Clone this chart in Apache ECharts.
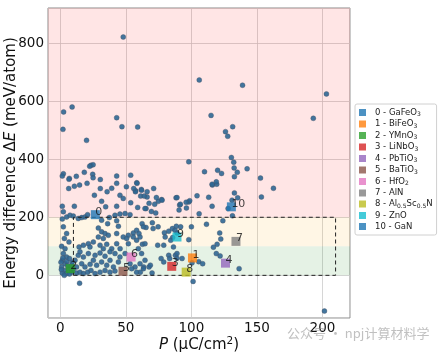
<!DOCTYPE html>
<html>
<head>
<meta charset="utf-8">
<script src="https://cdn.jsdelivr.net/npm/echarts@6/dist/echarts.min.js"></script>
<style>
  html, body { margin: 0; padding: 0; background: #fff; }
  #chart { width: 438px; height: 354px; }
</style>
</head>
<body>
<div id="chart"></div>
<script>
// candidate materials: polarization P (uC/cm2) vs energy difference (meV/atom)
const points = [
  [48,821],[2.5,563],[9,580],[2,503],[20,465],[43,543],[47,512],[59,511],[98,391],[106,673],[115,551],[110,357],[120,362],
  [23.4,379],[25,381],[22.4,376],[2.3,350],[1.5,342],[18.3,355],[12.2,341],[6.9,334],[24.7,348],[25,336],[43,342],[53.7,345],[30.5,330],
  [139,655],[203,625],[193,541],[131.5,512],[126,495],[127.7,479],[130.5,406],[132.3,390],[132.6,370],[135,355],[132.8,340],[142.5,367],[152.7,335],[123,351],
  [162.6,300],[153.4,270],[116,311],[119.3,314],[115.8,238],[132.8,284],[135.3,267],[131,259],[128,230],[131.3,205],[124,188],[121.6,146],[122.4,125],
  [119.6,107],[116.8,97],[119,75],[121.9,67],[136.4,23],[14.7,-27],[101.3,-21],[201.5,-123],
  [113.2,269],[104.3,274],[98,253],[98.7,257],[96,252],[88.3,267],[91,242],[90.6,225],[96.2,232],[77.3,261],[74.8,255],[72,245],[67.7,248],[65.4,230],
  [66.2,270],[61.8,296],[69.5,220],[72.8,215],[105.9,212],[111.5,176],
  [100,167],[91.8,167],[62.4,178],[65.4,165],[70.2,181],[70.8,161],[74.6,167],[79.4,147],[82.7,152],[85.5,161],[88.5,169],[87.5,155],[89,146],
  [85.7,130],[84.2,121],[86.3,98],[80,132],[74.3,104],[78.9,104],[98,123],
  [76.9,58],[78.9,46],[82.7,69],[83.4,58],[87.8,69],[89,59],[89,75],[92.9,58],[105.6,47],[108.6,40],[100.5,43],[63.6,29],[67.7,29],[68.7,35],[70,8],[61,11],
  [6.6,331],[10.7,307],[39.2,300],[58.3,319],[57.5,291],[62,293],[61.3,273],[45.5,276],[48,265],[53.7,250],[43,238],[31.5,255],[34.6,236],[1.5,238],
  [10.7,238],[2.3,219],[1.5,194],[4.8,201],[7.4,207],[9.9,204],[13.7,196],[16.3,199],[18.8,201],[20.8,209],[31.5,190],[37.4,199],[41.7,207],[45.5,211],
  [49.4,213],[53.2,209],[59,234],[64.6,230],
  [36.1,178],[43,188],[44.3,169],[29,163],[31.5,150],[34.1,144],[29,132],[32.8,127],[36.6,138],[43,144],[48,132],[51.9,138],[55.7,146],[58.2,155],
  [60,144],[63.4,167],[2.3,167],[4.8,144],[3.1,127],[6.6,115],[1,100],[3.6,92],[14.3,98],[17.6,104],[21.4,109],[25.2,115],[22.6,98],[30.3,104],
  [32.8,92],[35.4,107],[39.2,92],[43,109],[45.6,92],[50.6,127],[51.9,109],[55.7,132],[58.2,121],[60.8,132],[62.6,107],[59.5,92],[64.6,109],
  [2.3,75],[4.8,63],[1.5,52],[3.6,40],[1,29],[3.1,17],[6.1,23],[1.5,8],[4.8,6],[8.6,11],[12.4,8],[15,11],[17.6,6],[20.8,11],[23.4,17],[26.5,6],
  [30.3,11],[34.1,17],[37.9,11],[41.7,15],[12.4,29],[16.3,40],[18.8,29],[22.7,38],[25.2,52],[27.7,35],[31.5,46],[35.4,35],[37.9,52],[40.5,29],
  [44.3,46],[45.5,63],[41.7,75],[37.9,81],[34.1,66],[30.3,77],[26.5,69],[21.4,75],[17.6,63],[13.7,69],[15,81],[11.2,52],[8.6,35],[49.4,75],
  [53.2,40],[57,29],[60.8,40],[63.4,23],[58.2,11],[54.4,23],[62,75],[64.6,52],
  [58.5,317],[57.3,288],[64,273],[73.3,268],[77.6,259],[89,268],[91.6,245],[115.8,314],[119,322],
  [56,299],[43,317],[50.4,305],[66.2,288],[71.2,299],[14.7,311],[20.4,317],[6.4,299],[30.5,299],[35.7,288],[26,276],
  [0.5,45],[2,60],[5,48],[7,58],[9,45],[0.8,20],[5.5,33],[10,22],[7,5],[3,0]
];

const materials = ["GaFeO3", "BiFeO3", "YMnO3", "LiNbO3", "PbTiO3", "BaTiO3", "HfO2", "AlN", "Al0.5Sc0.5N", "ZnO", "GaN"];
const materialP = [26.7, 100.8, 7.6, 85, 126, 47.8, 54, 134, 96, 89, 130.5];
const materialE = [209, 60, 23, 31, 42, 14, 63, 117, 11, 132, 236];
const colors = ["#1f77b4", "#ff7f0e", "#2ca02c", "#d62728", "#9467bd", "#8c564b", "#e377c2", "#7f7f7f", "#bcbd22", "#17becf", "#1f77b4"];

// shaded stability windows and the dashed selection box
const bandEdges = [0, 100, 200, 921];
const bandColors = ["rgba(0,128,0,0.1)", "rgba(255,165,0,0.1)", "rgba(255,0,0,0.1)"];
const boxP = [10, 210, 210, 10, 10];
const boxE = [0, 0, 200, 200, 0];

const font = "DejaVu Sans";
const chart = echarts.init(document.getElementById("chart"));

const series = [
  {
    type: "scatter",
    data: points,
    symbolSize: 5,
    itemStyle: { color: "#2f6794", opacity: 0.9, borderColor: "#4a4f60", borderWidth: 0.4 },
    z: 3,
    markArea: {
      silent: true,
      data: bandColors.map((c, i) => [
        { yAxis: bandEdges[i], itemStyle: { color: c } },
        { yAxis: bandEdges[i + 1] }
      ])
    }
  },
  {
    type: "line",
    data: boxP.map((p, i) => [p, boxE[i]]),
    symbol: "none",
    lineStyle: { color: "#222", width: 1, type: [4, 3] },
    silent: true,
    z: 4
  }
];

materials.forEach((m, i) => {
  series.push({
    name: i + " - " + m,
    type: "scatter",
    data: [[materialP[i], materialE[i]]],
    symbol: "rect",
    symbolSize: 9,
    itemStyle: { color: colors[i] },
    label: {
      show: true,
      formatter: String(i),
      position: [4.5, 1.5],
      align: "left",
      verticalAlign: "middle",
      color: "#111",
      fontFamily: font,
      fontSize: 11
    },
    z: 5
  });
});

// "3 - Al0.5Sc0.5N" -> rich text with subscripted numbers in the formula
function legendText(name) {
  const parts = name.split(" - ");
  const tokens = parts[1].match(/\d+(?:\.\d+)?|[^\d]+/g);
  return "{n|" + parts[0] + " - }" + tokens.map(t => (/^\d/.test(t) ? "{sub|" + t + "}" : "{n|" + t + "}")).join("");
}

function onlyTicks(step) {
  return v => (Math.abs(v / step - Math.round(v / step)) < 1e-6 ? String(Math.round(v)) : "");
}

chart.setOption({
  animation: false,
  textStyle: { fontFamily: font },
  grid: {
    left: 48, top: 8, right: 88, bottom: 36,
    containLabel: false, outerBoundsMode: "none",
    show: true, borderColor: "#8a8a8a", borderWidth: 1
  },
  legend: {
    data: materials.map((m, i) => i + " - " + m),
    orient: "vertical",
    left: 355,
    top: 104,
    icon: "rect",
    itemWidth: 7,
    itemHeight: 7,
    itemGap: 2,
    padding: [4, 4, 4, 4],
    borderColor: "#d0d0d0",
    borderWidth: 1,
    borderRadius: 2,
    formatter: legendText,
    textStyle: {
      padding: [0, 0, 0, 4],
      rich: {
        n: { fontSize: 8.5, fontFamily: font, color: "#222" },
        sub: { fontSize: 6, fontFamily: font, color: "#222", padding: [4, 0, 0, 0] }
      }
    }
  },
  xAxis: {
    type: "value",
    min: -9.4,
    max: 221,
    splitNumber: 5,
    axisLine: { show: false },
    axisTick: { show: false },
    splitLine: { lineStyle: { color: "#cccccc", width: 0.8 } },
    axisLabel: { formatter: onlyTicks(50), showMinLabel: false, showMaxLabel: false, color: "#111", fontSize: 13.5, margin: 3 },
    name: "{i|P} ({n|μC/cm}{sup|2})",
    nameLocation: "middle",
    nameGap: 18,
    nameMoveOverlap: false,
    nameTextStyle: {
      rich: {
        i: { fontSize: 15, fontStyle: "italic", fontFamily: font, color: "#111" },
        n: { fontSize: 15, fontFamily: font, color: "#111" },
        sup: { fontSize: 10.5, fontFamily: font, color: "#111", padding: [0, 0, 8, 0] }
      },
      fontSize: 15,
      color: "#111"
    }
  },
  yAxis: {
    type: "value",
    min: -147,
    max: 921,
    splitNumber: 5,
    axisLine: { show: false },
    axisTick: { show: false },
    splitLine: { lineStyle: { color: "#cccccc", width: 0.8 } },
    axisLabel: { formatter: onlyTicks(200), showMinLabel: false, showMaxLabel: false, color: "#111", fontSize: 13.5, margin: 4 },
    name: "{n|Energy difference Δ}{i|E}{n| (meV/atom)}",
    nameLocation: "middle",
    nameRotate: 90,
    nameGap: 29,
    nameMoveOverlap: false,
    nameTextStyle: {
      rich: {
        i: { fontSize: 15, fontStyle: "italic", fontFamily: font, color: "#111" },
        n: { fontSize: 15, fontFamily: font, color: "#111" }
      }
    }
  },
  graphic: [
    {
      type: "text",
      left: 287,
      top: 327,
      style: { text: "公众号 · npj计算材料学", fill: "rgba(140,140,140,0.55)", font: "13px 'Noto Sans CJK SC'" },
      z: 100
    }
  ],
  series: series
});
</script>
</body>
</html>
